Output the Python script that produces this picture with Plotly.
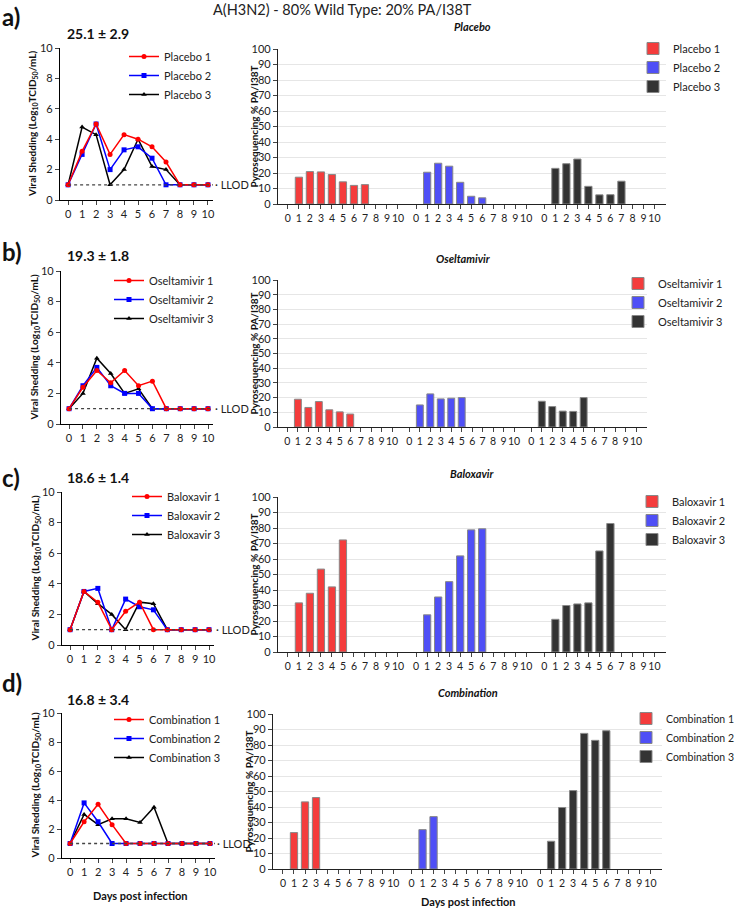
import plotly.graph_objects as go

# ---------------- DATA ----------------
days = list(range(11))
day_labels = [str(d) for d in days]
treatments = ["Placebo", "Oseltamivir", "Baloxavir", "Combination"]
stats_labels = ["25.1 ± 2.9", "19.3 ± 1.8", "18.6 ± 1.4", "16.8 ± 3.4"]
panel_letters = ["a)", "b)", "c)", "d)"]
LLOD = 1

# viral shedding (log10 TCID50/mL)
shed_placebo_1 = [1, 3.2, 5.0, 3.0, 4.3, 4.0, 3.5, 2.5, 1, 1, 1]
shed_placebo_2 = [1, 3.0, 5.0, 2.0, 3.3, 3.5, 2.75, 1, 1, 1, 1]
shed_placebo_3 = [1, 4.8, 4.3, 1.0, 2.0, 4.0, 2.2, 2.0, 1, 1, 1]
shed_oselt_1 = [1, 2.4, 3.5, 2.7, 3.5, 2.5, 2.8, 1, 1, 1, 1]
shed_oselt_2 = [1, 2.5, 3.7, 2.5, 2.0, 2.0, 1, 1, 1, 1, 1]
shed_oselt_3 = [1, 2.0, 4.3, 3.3, 2.0, 2.3, 1, 1, 1, 1, 1]
shed_balox_1 = [1, 3.5, 2.8, 1.0, 2.2, 2.8, 1, 1, 1, 1, 1]
shed_balox_2 = [1, 3.5, 3.7, 1.0, 3.0, 2.5, 2.3, 1, 1, 1, 1]
shed_balox_3 = [1, 3.5, 2.7, 2.0, 1.0, 2.8, 2.7, 1, 1, 1, 1]
shed_combo_1 = [1, 2.5, 3.7, 2.3, 1, 1, 1, 1, 1, 1, 1]
shed_combo_2 = [1, 3.8, 2.5, 1, 1, 1, 1, 1, 1, 1, 1]
shed_combo_3 = [1, 3.0, 2.3, 2.7, 2.7, 2.45, 3.5, 1, 1, 1, 1]

# pyrosequencing % PA/I38T
pyro_placebo_1 = [None, 17.3, 20.9, 20.7, 19, 14.3, 12, 12.5, None, None, None]
pyro_placebo_2 = [None, 20.5, 26.3, 24.4, 14, 5, 4, None, None, None, None]
pyro_placebo_3 = [None, 23, 26, 29, 11.4, 5.9, 6, 14.7, None, None, None]
pyro_oselt_1 = [None, 18.9, 13.3, 17.3, 11.7, 10.3, 8.8, None, None, None, None]
pyro_oselt_2 = [None, 15, 22.5, 19.1, 19.6, 20, None, None, None, None, None]
pyro_oselt_3 = [None, 17.5, 13.9, 10.8, 10.6, 20, None, None, None, None, None]
pyro_balox_1 = [None, 31.7, 37.9, 53.5, 42, 72.3, None, None, None, None, None]
pyro_balox_2 = [None, 24, 35.5, 45.4, 62, 78.8, 79.5, None, None, None, None]
pyro_balox_3 = [None, 21.1, 30, 31, 31.7, 65.2, 82.9, None, None, None, None]
pyro_combo_1 = [None, 23.5, 43.3, 46.1, None, None, None, None, None, None, None]
pyro_combo_2 = [None, 25.4, 33.8, None, None, None, None, None, None, None, None]
pyro_combo_3 = [None, 17.9, 39.7, 50.6, 87.5, 83, 89.2, None, None, None, None]

shed_sets = [
    [shed_placebo_1, shed_placebo_2, shed_placebo_3],
    [shed_oselt_1, shed_oselt_2, shed_oselt_3],
    [shed_balox_1, shed_balox_2, shed_balox_3],
    [shed_combo_1, shed_combo_2, shed_combo_3],
]
pyro_sets = [
    [pyro_placebo_1, pyro_placebo_2, pyro_placebo_3],
    [pyro_oselt_1, pyro_oselt_2, pyro_oselt_3],
    [pyro_balox_1, pyro_balox_2, pyro_balox_3],
    [pyro_combo_1, pyro_combo_2, pyro_combo_3],
]

# ---------------- STYLE / LAYOUT ----------------
W, H = 740, 908
FONT = "Lato, 'Open Sans', sans-serif"
def fx(p): return p / W
def fy(p): return 1 - p / H

line_colors = ["#FF0000", "#0000FF", "#000000"]
line_symbols = ["circle", "square", "triangle-up"]
bar_colors = ["#F43C3C", "#4F4FF6", "#333333"]
GROUP_STEP = 11.65

# pixel boxes in the screenshot (left, right, top, bottom)
line_box = [(60, 213, 48, 200), (61, 213, 271, 424), (62, 214, 492, 645), (62, 215, 713, 858)]
bar_box = [(278, 666, 49, 204), (278, 647, 280, 427), (278, 666, 497, 652), (273, 662, 714, 869)]
line_leg = [(124, 42), (109, 266), (127, 482), (109, 705)]
bar_leg = [(633, 34), (618, 269), (632, 487), (626, 704)]
bar_leg_font = [11, 11, 11, 10.5]
bar_title_pos = [(472, 27), (463, 258), (472, 474), (468, 692)]
stats_y = [33, 256, 477, 699]
letter_y = [16, 252, 477, 682]

fig = go.Figure()
annotations = []
shapes = []
layout = dict(
    width=W, height=H, margin=dict(l=0, r=0, t=0, b=0, autoexpand=False),
    paper_bgcolor="white", plot_bgcolor="white",
    font=dict(family=FONT, size=11, color="#111"),
    showlegend=True,
)

def ann(x, y, text, size, xanchor="center", yanchor="middle", angle=0, color="#111"):
    annotations.append(dict(x=fx(x), y=fy(y), xref="paper", yref="paper", text=text,
                            showarrow=False, xanchor=xanchor, yanchor=yanchor,
                            textangle=angle, font=dict(size=size, color=color)))

for i in range(4):
    li = 2 * i + 1
    bi = 2 * i + 2
    lx = "x" if li == 1 else f"x{li}"
    ly = "y" if li == 1 else f"y{li}"
    bx = f"x{bi}"
    by = f"y{bi}"
    lleg = "legend" if li == 1 else f"legend{li}"
    bleg = f"legend{bi}"

    # ---------- line chart ----------
    for k in [2, 1, 0]:
        fig.add_trace(go.Scatter(
            x=days, y=shed_sets[i][k], mode="lines+markers",
            name=f"{treatments[i]} {k+1}",
            line=dict(color=line_colors[k], width=1.5),
            marker=dict(color=line_colors[k], symbol=line_symbols[k], size=5),
            xaxis=lx, yaxis=ly, legend=lleg, cliponaxis=False,
        ))
    L, R, T, B = line_box[i]
    layout["xaxis" if li == 1 else f"xaxis{li}"] = dict(
        domain=[fx(L), fx(R)], anchor=ly, range=[-0.58, 10.36],
        tickvals=days, ticktext=day_labels, ticks="outside", ticklen=4,
        showline=True, linecolor="black", linewidth=1.2, showgrid=False, zeroline=False,
        tickfont=dict(size=11, color="#222"),
    )
    layout["yaxis" if li == 1 else f"yaxis{li}"] = dict(
        domain=[fy(B), fy(T)], anchor=lx, range=[0, 10], dtick=2,
        ticks="outside", ticklen=4, showline=True, linecolor="black", linewidth=1.2,
        showgrid=False, zeroline=False, tickfont=dict(size=11, color="#222"),
    )
    lgx, lgy = line_leg[i]
    layout[lleg] = dict(x=fx(lgx), y=fy(lgy), xanchor="left", yanchor="top",
                        bgcolor="rgba(0,0,0,0)", font=dict(size=11, color="#222"),
                        traceorder="reversed", itemwidth=30, tracegroupgap=0)
    shapes.append(dict(type="line", xref=lx, yref=ly, x0=0, x1=10.36, y0=LLOD, y1=LLOD,
                       line=dict(color="#444", width=1.3, dash="dot")))
    annotations.append(dict(x=10.36, y=LLOD, xref=lx, yref=ly, text="· LLOD", showarrow=False,
                            xanchor="left", yanchor="middle", font=dict(size=11, color="#222")))
    ann(L - 27, (T + B) / 2, "<b>Viral Shedding (Log<sub>10</sub>TCID<sub>50</sub>/mL)</b>", 10, angle=-90)
    ann(65, stats_y[i], f"<b>{stats_labels[i]}</b>", 14, xanchor="left")
    ann(0, letter_y[i], f"<b>{panel_letters[i]}</b>", 24, xanchor="left")

    # ---------- bar chart ----------
    tickvals, ticktext = [], []
    for k in range(3):
        xs = [k * GROUP_STEP + d for d in days]
        tickvals += xs
        ticktext += day_labels
        fig.add_trace(go.Bar(
            x=xs, y=pyro_sets[i][k], name=f"{treatments[i]} {k+1}",
            marker=dict(color=bar_colors[k], line=dict(color="#888", width=1)),
            width=0.66, xaxis=bx, yaxis=by, legend=bleg,
        ))
    L, R, T, B = bar_box[i]
    layout[f"xaxis{bi}"] = dict(
        domain=[fx(L), fx(R)], anchor=by, range=[-0.9, 34.35],
        tickvals=tickvals, ticktext=ticktext, tickangle=0, ticks="outside", ticklen=4,
        showline=True, linecolor="#222", linewidth=1.2, showgrid=False, zeroline=False,
        tickfont=dict(size=10.5, color="#222"),
    )
    layout[f"yaxis{bi}"] = dict(
        domain=[fy(B), fy(T)], anchor=bx, range=[0, 100], dtick=10,
        ticks="outside", ticklen=4, showline=True, linecolor="#222", linewidth=1.2,
        showgrid=True, gridcolor="#E6E6E6", gridwidth=1, zeroline=False,
        tickfont=dict(size=11, color="#222"),
    )
    bgx, bgy = bar_leg[i]
    layout[bleg] = dict(x=fx(bgx), y=fy(bgy), xanchor="left", yanchor="top",
                        bgcolor="rgba(0,0,0,0)", font=dict(size=bar_leg_font[i], color="#222"),
                        itemwidth=30, tracegroupgap=0)
    ann(L - 25, (T + B) / 2, "<b>Pyrosequencing % PA/I38T</b>", 10, angle=-90)
    tx, ty = bar_title_pos[i]
    ann(tx, ty, f"<b><i>{treatments[i]}</i></b>", 11)

ann(342, 10, "A(H3N2) - 80% Wild Type: 20% PA/I38T", 14.5, color="#222")
ann(140, 895, "<b>Days post infection</b>", 11)
ann(468, 901, "<b>Days post infection</b>", 11)

layout["annotations"] = annotations
layout["shapes"] = shapes
fig.update_layout(**layout)
fig.write_html("out.html", config={"displayModeBar": False},
               post_script="document.body.style.margin='0';")
